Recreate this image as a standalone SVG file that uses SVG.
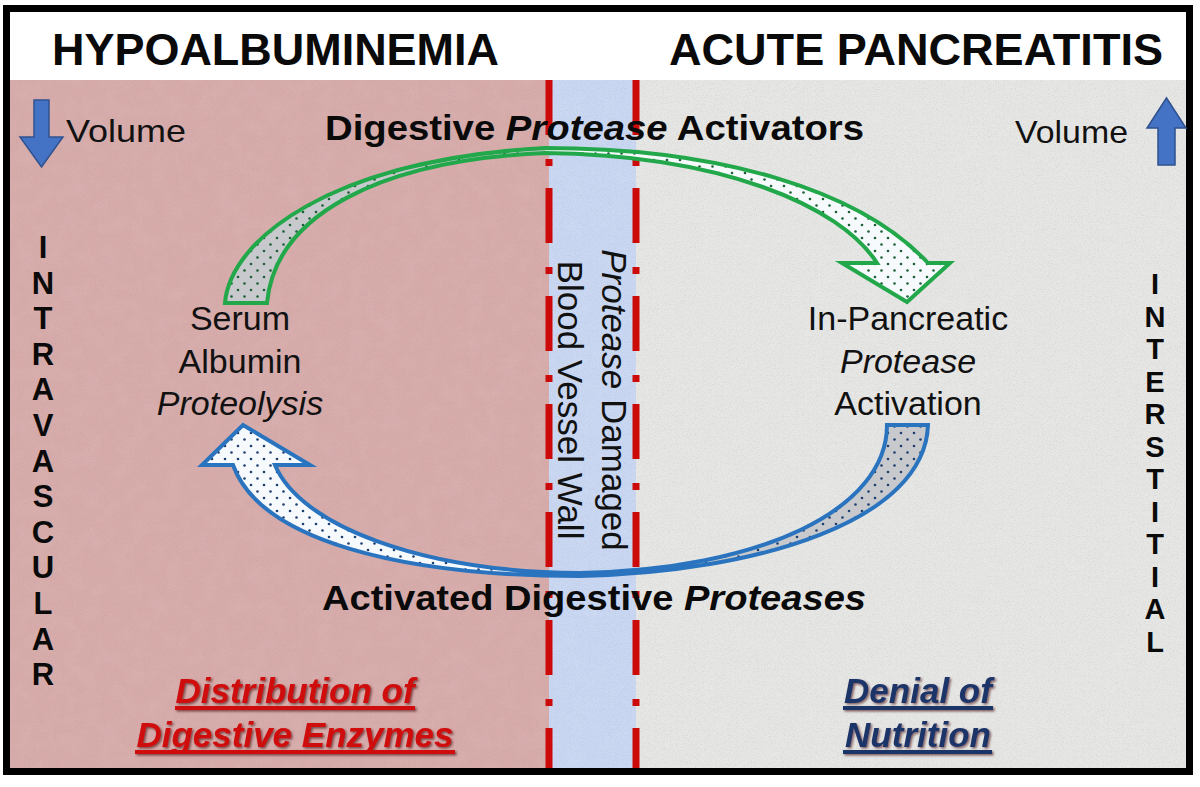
<svg xmlns="http://www.w3.org/2000/svg" width="1200" height="787" viewBox="0 0 1200 787">
<style>
.hdr{font-family:"Liberation Sans",Arial,sans-serif;font-weight:bold;font-size:45px;fill:#0a0a0a}
.lbl{font-family:"Liberation Sans",Arial,sans-serif;font-weight:bold;font-size:35px;fill:#0a0a0a}
.reg{font-family:"Liberation Sans",Arial,sans-serif;font-size:34px;fill:#111}
.vol{font-family:"Liberation Sans",Arial,sans-serif;font-size:32px;fill:#111}
.wall{font-family:"Liberation Sans",Arial,sans-serif;font-size:35px;fill:#111}
.stackL{font-family:"Liberation Sans",Arial,sans-serif;font-weight:bold;font-size:31px;fill:#0a0a0a}
.stackR{font-family:"Liberation Sans",Arial,sans-serif;font-weight:bold;font-size:29px;fill:#0a0a0a}
.foot{font-family:"Liberation Sans",Arial,sans-serif;font-weight:bold;font-style:italic;font-size:35px}
.it{font-style:italic}
.dash{stroke:#cc0a0a;stroke-width:7;stroke-dasharray:55 24 7 22;fill:none}
.garrow{fill:none;stroke:#22a84a;stroke-width:4;stroke-linejoin:miter}
.barrow{fill:none;stroke:#2a74bf;stroke-width:4;stroke-linejoin:miter}
.volarrow{fill:#4472c4;stroke:#2f528f;stroke-width:1.5}
</style>
<defs>
<pattern id="dotsG" width="13" height="13" patternUnits="userSpaceOnUse"><circle cx="4" cy="4" r="1.3" fill="#1c5e36"/><circle cx="10.5" cy="10.5" r="1.3" fill="#1c5e36"/></pattern>
<pattern id="dotsB" width="13" height="13" patternUnits="userSpaceOnUse"><circle cx="4" cy="4" r="1.3" fill="#1d3f70"/><circle cx="10.5" cy="10.5" r="1.3" fill="#1d3f70"/></pattern>
<filter id="grain" x="0" y="0" width="100%" height="100%">
<feTurbulence type="fractalNoise" baseFrequency="0.85" numOctaves="2" seed="7"/>
<feColorMatrix type="matrix" values="0 0 0 0 0.3  0 0 0 0 0.3  0 0 0 0 0.3  1.6 0 0 0 -0.75"/>
</filter>
<filter id="blot" x="0" y="0" width="100%" height="100%">
<feTurbulence type="fractalNoise" baseFrequency="0.06" numOctaves="3" seed="2"/>
<feColorMatrix type="matrix" values="0 0 0 0 1  0 0 0 0 1  0 0 0 0 1  0.9 0 0 0 -0.35"/>
</filter>
<filter id="shadow" x="-5%" y="-20%" width="110%" height="140%">
<feDropShadow dx="1.5" dy="1.5" stdDeviation="0.8" flood-color="#3a0000" flood-opacity="0.6"/>
</filter>
</defs>

<!-- backgrounds -->
<rect x="0" y="0" width="1200" height="787" fill="#ffffff"/>
<rect x="8" y="80" width="541" height="690" fill="#d7abaa"/>
<rect x="549" y="80" width="87" height="690" fill="#c9d7f3"/>
<rect x="636" y="80" width="552" height="690" fill="#e6e6e4"/>
<rect x="8" y="80" width="1180" height="690" filter="url(#blot)" opacity="0.12"/>
<rect x="8" y="80" width="1180" height="690" filter="url(#grain)" opacity="0.3"/>

<!-- vessel wall dashed lines -->
<g id="wall-lines">
<line class="dash" x1="549" y1="80" x2="549" y2="770"/>
<line class="dash" x1="636" y1="80" x2="636" y2="770"/>
</g>

<!-- outer frame -->
<rect x="6.5" y="8.5" width="1183" height="763" fill="none" stroke="#000" stroke-width="7"/>

<g id="header-left"><text class="hdr" x="52" y="65" textLength="447" lengthAdjust="spacingAndGlyphs">HYPOALBUMINEMIA</text></g>
<g id="header-right"><text class="hdr" x="669" y="65" textLength="494" lengthAdjust="spacingAndGlyphs">ACUTE PANCREATITIS</text></g>

<g id="volume-left">
<path class="volarrow" d="M34,100 H49 V137 H63 L41.5,167 L20,137 H34 Z"/>
<text class="vol" x="66" y="142" textLength="120" lengthAdjust="spacingAndGlyphs">Volume</text>
</g>
<g id="volume-right">
<path class="volarrow" d="M1158,165 H1175 V128 H1186 L1166.5,98 L1147,128 H1158 Z"/>
<text class="vol" x="1015" y="143" textLength="113" lengthAdjust="spacingAndGlyphs">Volume</text>
</g>

<g id="intravascular"><text class="stackL" text-anchor="middle"><tspan x="43" y="258">I</tspan><tspan x="43" y="293.6">N</tspan><tspan x="43" y="329.2">T</tspan><tspan x="43" y="364.8">R</tspan><tspan x="43" y="400.4">A</tspan><tspan x="43" y="436">V</tspan><tspan x="43" y="471.6">A</tspan><tspan x="43" y="507.2">S</tspan><tspan x="43" y="542.8">C</tspan><tspan x="43" y="578.4">U</tspan><tspan x="43" y="614">L</tspan><tspan x="43" y="649.6">A</tspan><tspan x="43" y="685.2">R</tspan></text></g>
<g id="interstitial"><text class="stackR" text-anchor="middle"><tspan x="1155" y="294">I</tspan><tspan x="1155" y="326.5">N</tspan><tspan x="1155" y="359">T</tspan><tspan x="1155" y="391.5">E</tspan><tspan x="1155" y="424">R</tspan><tspan x="1155" y="456.5">S</tspan><tspan x="1155" y="489">T</tspan><tspan x="1155" y="521.5">I</tspan><tspan x="1155" y="554">T</tspan><tspan x="1155" y="586.5">I</tspan><tspan x="1155" y="619">A</tspan><tspan x="1155" y="651.5">L</tspan></text></g>

<g id="vessel-wall-label">
<text class="wall" text-anchor="middle" transform="translate(602,400) rotate(90)"><tspan class="it">Protease</tspan> Damaged</text>
<text class="wall" text-anchor="middle" transform="translate(558,400) rotate(90)">Blood Vessel Wall</text>
</g>

<!-- connectors -->
<g id="connectors">
<g id="green-arrow">
<path d="M225,303 C230,240 330,160 545,148 L545,153 C380,160 275,215 267,303 Z" fill="#c8c9cc"/>
<path d="M545,148 C720,148 860,190 928,263 L950,263 L907,302 L842,263 L877,263 C840,205 720,155 545,153 Z" fill="#f7fafd"/>
<path d="M225,303 C230,240 330,160 545,148 C720,148 860,190 928,263 L950,263 L907,302 L842,263 L877,263 C840,205 720,155 545,153 C380,160 275,215 267,303 Z" fill="url(#dotsG)"/>
<path class="garrow" d="M225,303 C230,240 330,160 545,148 C720,148 860,190 928,263 L950,263 L907,302 L842,263 L877,263 C840,205 720,155 545,153 C380,160 275,215 267,303 Z"/>
</g>
<g id="blue-arrow">
<path d="M928,425 C925,520 760,572 580,576 L580,573 C760,570 887,510 887,425 Z" fill="#c8c9cc"/>
<path d="M580,576 C400,576 260,540 233,465 L202,465 L243,425 L310,465 L275,465 C300,525 420,572 580,573 Z" fill="#f7fafd"/>
<path d="M928,425 C925,520 760,572 580,576 C400,576 260,540 233,465 L202,465 L243,425 L310,465 L275,465 C300,525 420,572 580,573 C760,570 887,510 887,425 Z" fill="url(#dotsB)"/>
<path class="barrow" d="M928,425 C925,520 760,572 580,576 C400,576 260,540 233,465 L202,465 L243,425 L310,465 L275,465 C300,525 420,572 580,573 C760,570 887,510 887,425 Z"/>
</g>
</g>

<g id="label-activators"><text class="lbl" x="325" y="140" textLength="539" lengthAdjust="spacingAndGlyphs">Digestive <tspan class="it">Protease</tspan> Activators</text></g>
<g id="label-proteases"><text class="lbl" x="322" y="610" textLength="544" lengthAdjust="spacingAndGlyphs">Activated Digestive <tspan class="it">Proteases</tspan></text></g>

<g id="node-serum">
<text class="reg" text-anchor="middle"><tspan x="240" y="330">Serum</tspan><tspan x="240" y="373">Albumin</tspan><tspan class="it" x="240" y="415">Proteolysis</tspan></text>
</g>
<g id="node-pancreatic">
<text class="reg" text-anchor="middle"><tspan x="908" y="330">In-Pancreatic</tspan><tspan class="it" x="908" y="373">Protease</tspan><tspan x="908" y="415">Activation</tspan></text>
</g>

<g id="footer-left" filter="url(#shadow)">
<text class="foot" fill="#d00a0a" text-anchor="middle"><tspan x="295" y="703">Distribution of</tspan><tspan x="295" y="747">Digestive Enzymes</tspan></text>
<rect x="175" y="706" width="240" height="4" fill="#d00a0a"/>
<rect x="135" y="750" width="320" height="4" fill="#d00a0a"/>
</g>
<g id="footer-right" filter="url(#shadow)">
<text class="foot" fill="#1f3468" text-anchor="middle"><tspan x="918" y="703">Denial of</tspan><tspan x="918" y="747">Nutrition</tspan></text>
<rect x="843" y="706" width="150" height="4" fill="#1f3468"/>
<rect x="843" y="750" width="149" height="4" fill="#1f3468"/>
</g>
</svg>
